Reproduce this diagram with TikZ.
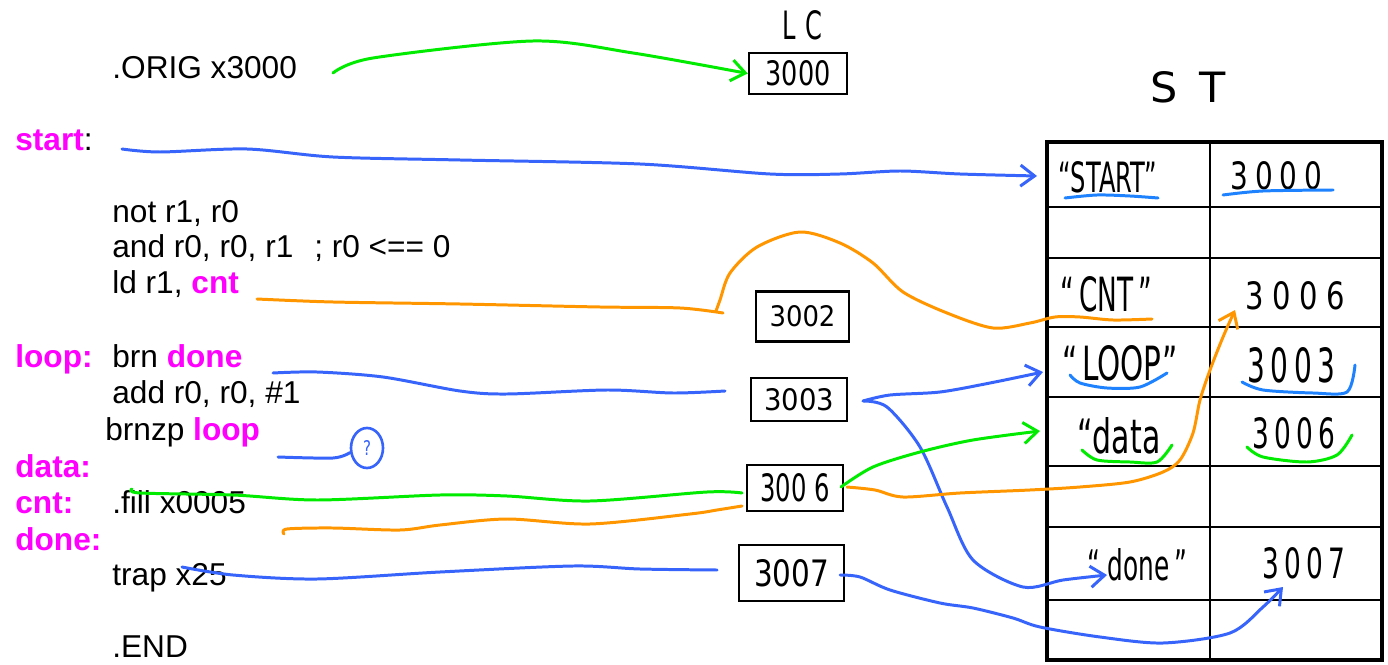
\documentclass[tikz,border=0pt]{standalone}
\usepackage{fontspec}
\setmainfont{Liberation Sans}
\newfontfamily\handfont{DejaVu Sans}
\usetikzlibrary{arrows.meta,shapes.geometric}
\newlength\pxu \setlength\pxu{0.02cm}
\newcommand{\hw}[3]{\resizebox{#1\pxu}{#2\pxu}{\handfont #3}}
\definecolor{mag}{RGB}{255,0,255}
\definecolor{pgreen}{RGB}{0,235,0}
\definecolor{pblue}{RGB}{55,100,250}
\definecolor{porange}{RGB}{255,150,0}
\definecolor{ublue}{RGB}{30,130,255}
\newcommand{\lbl}[1]{\textcolor{mag}{\textbf{#1}}}
\begin{document}
\begin{tikzpicture}[x=0.02cm,y=-0.02cm,
  code/.style={anchor=base west, inner sep=0pt, font=\fontsize{18}{22}\selectfont},
  hand/.style={anchor=base west, inner sep=0pt},
  lcbox/.style={draw, line width=1.4pt, inner sep=0pt},
  pen/.style={line width=1.7pt, line cap=round, line join=round},
  arr/.style={-{Straight Barb[length=8pt,width=12pt]}},
]
\useasboundingbox (0,0) rectangle (1388,665);

% ---- code listing
\node[code] (orig) at (112,79) {.ORIG x3000};
\node[code] (start) at (15,151) {\lbl{start}:};
\node[code] (not) at (112,223) {not r1, r0};
\node[code] (and) at (112,258) {and r0, r0, r1\hspace{0.66em}; r0 <== 0};
\node[code] (ld) at (112,294) {ld r1, \lbl{cnt}};
\node[code] (loop) at (15,367) {\lbl{loop:}};
\node[code] (brn) at (112,367) {brn \lbl{done}};
\node[code] (add) at (112,403) {add r0, r0, \#1};
\node[code] (brnzp) at (105,440) {brnzp \lbl{loop}};
\node[code] (data) at (15,477) {\lbl{data:}};
\node[code] (cntl) at (15,513) {\lbl{cnt:}};
\node[code] (fill) at (112,513) {.fill x0005};
\node[code] (donel) at (15,550) {\lbl{done:}};
\node[code] (trap) at (112,585) {trap x25};
\node[code] (end) at (112,657) {.END};

% ---- LC column
\node[hand] (lc) at (782,40) {\hw{40}{29}{L\hspace{0.4em}C}};
\node[lcbox, minimum width=98\pxu, minimum height=41\pxu] (lcb) at (798,73.5) {\hw{65}{25}{3000}};
\node[lcbox, minimum width=93\pxu, minimum height=50\pxu] (b3002) at (802.5,316.5) {\hw{66}{21}{3002}};
\node[lcbox, minimum width=96\pxu, minimum height=43\pxu] (b3003) at (799,399.5) {\hw{70}{22}{3003}};
\node[lcbox, minimum width=96\pxu, minimum height=46\pxu] (b3006) at (795,488) {\hw{69}{28}{300\hspace{0.3em}6}};
\node[lcbox, minimum width=105\pxu, minimum height=56\pxu] (b3007) at (791.5,573) {\hw{75}{27}{3007}};

% ---- symbol table
\node[hand] (stl) at (1150,103) {\hw{75}{31}{S\hspace{0.5em}T}};
\node[draw, line width=2.8pt, minimum width=335\pxu, minimum height=518\pxu, inner sep=0pt] (st) at (1214.5,401) {};
\foreach \yy in {207,258,327,397,466,527,600}
  \draw[line width=1.3pt] (1047,\yy) -- (1382,\yy);
\draw[line width=1.1pt] (1210,142) -- (1210,660);

\node[hand] (kStart) at (1058,193) {\hw{99}{31}{“START”}};
\node[hand] (vStart) at (1230,190) {\hw{92}{28}{3\hspace{.25em}0\hspace{.25em}0\hspace{.25em}0}};
\node[hand] (kCnt) at (1060,312) {\hw{92}{35}{“\hspace{.2em}CNT\hspace{.2em}”}};
\node[hand] (vCnt) at (1245,310) {\hw{100}{28}{3\hspace{.3em}0\hspace{.3em}0\hspace{.3em}6}};
\node[hand] (kLoop) at (1062,380) {\hw{115}{35}{“\hspace{.15em}LOOP”}};
\node[hand] (vLoop) at (1247,382) {\hw{88}{35}{3\hspace{.2em}0\hspace{.2em}0\hspace{.2em}3}};
\node[hand] (kData) at (1077,453) {\hw{83}{36}{“data}};
\node[hand] (vData) at (1252,448) {\hw{83}{31}{3\hspace{.2em}0\hspace{.2em}0\hspace{.2em}6}};
\node[hand] (kDone) at (1087,580) {\hw{100}{32}{“\hspace{.3em}done\hspace{.2em}”}};
\node[hand] (vDone) at (1262,578) {\hw{83}{31}{3\hspace{.2em}0\hspace{.2em}0\hspace{.2em}7}};

% underlines
\draw[pen, ublue] plot[smooth] coordinates {(1065,198) (1097,195) (1130,196) (1158,198)};
\draw[pen, ublue] plot[smooth] coordinates {(1223,195) (1263,191) (1333,190)};
\draw[pen, ublue] plot[smooth] coordinates {(1070,375) (1080,383) (1107,388) (1140,387) (1167,373)};
\draw[pen, ublue] plot[smooth] coordinates {(1242,382) (1263,390) (1313,393) (1347,392) (1355,365)};
\draw[pen, pgreen] plot[smooth] coordinates {(1082,450) (1097,460) (1130,462) (1157,462) (1172,445)};
\draw[pen, pgreen] plot[smooth] coordinates {(1247,447) (1263,457) (1307,462) (1337,455) (1352,435)};

% question mark
\node[draw=pblue, line width=1.5pt, ellipse, minimum width=32\pxu, minimum height=40\pxu, inner sep=0pt] (q) at (367,448) {\textcolor{pblue}{\hw{8}{15}{?}}};

% ---- free ends
\coordinate (gA) at (333,73);
\coordinate (sA) at (122,149);
\coordinate (sB) at (1037,176);
\coordinate (oA) at (257,299);
\coordinate (oT) at (723,313);
\coordinate (oB) at (716,311);
\coordinate (oC) at (1152,319);
\coordinate (lA) at (273,373);
\coordinate (lB) at (725,391);
\coordinate (zA) at (278,457);
\coordinate (dA) at (132,489);
\coordinate (dB) at (742,493);
\coordinate (cA) at (284,534);
\coordinate (cB) at (742,506);
\coordinate (tA) at (182,567);
\coordinate (tB) at (717,570);
\coordinate (r3) at (863,401);
\coordinate (kL) at (1043,372);
\coordinate (kD) at (1107,575);
\coordinate (r6) at (841,487);
\coordinate (kDa) at (1040,431);
\coordinate (r6o) at (847,487);
\coordinate (vC) at (1235,310);
\coordinate (r7) at (840,575);
\coordinate (vD) at (1283,587);

% ---- connectors
\draw[pen, pgreen, arr] plot[smooth] coordinates {(gA) (373,58) (533,41) (633,53) (lcb.west)};
\draw[pen, pblue, arr] plot[smooth] coordinates {(sA) (160,152) (247,149) (333,157) (460,160) (640,164) (770,174) (840,174) (900,171) (960,174) (sB)};
\draw[pen, porange] plot[smooth] coordinates {(oA) (333,302) (460,304) (600,307) (680,308) (oT)};
\draw[pen, porange] plot[smooth] coordinates {(oB) (720,300) (730,273) (757,247) (800,232) (840,243) (873,263) (903,292) (947,313) (993,328) (1030,323) (1055,317) (1080,317) (1113,320) (oC)};
\draw[pen, pblue] plot[smooth] coordinates {(lA) (317,372) (383,377) (460,391) (507,394) (607,390) (673,393) (lB)};
\draw[pen, pblue] plot[smooth] coordinates {(zA) (333,458) (q.195)};
\draw[pen, pgreen] plot[smooth] coordinates {(dA) (140,493) (233,495) (317,500) (440,495) (507,496) (590,501) (707,492) (dB)};
\draw[pen, porange] plot[smooth] coordinates {(cA) (287,529) (333,528) (400,530) (440,525) (507,519) (590,524) (690,514) (717,510) (cB)};
\draw[pen, pblue] plot[smooth] coordinates {(tA) (233,575) (317,579) (440,572) (573,566) (640,569) (tB)};
\draw[pen, pblue, arr] plot[smooth] coordinates {(r3) (890,395) (940,392) (990,383) (kL)};
\draw[pen, pblue, arr] plot[smooth] coordinates {(r3) (887,407) (920,447) (947,507) (973,560) (1023,587) (1063,580) (kD)};
\draw[pen, pgreen, arr] plot[smooth] coordinates {(r6) (873,467) (920,452) (973,440) (kDa)};
\draw[pen, porange, arr] plot[smooth] coordinates {(r6o) (875,490) (903,497) (960,493) (1030,490) (1080,487) (1130,482) (1163,472) (1180,460) (1193,433) (1200,400) (1210,370) (1223,337) (vC)};
\draw[pen, pblue, arr] plot[smooth] coordinates {(r7) (860,577) (890,590) (940,603) (973,608) (1013,618) (1040,627) (1100,637) (1163,643) (1230,633) (1263,607) (vD)};
\end{tikzpicture}
\end{document}
